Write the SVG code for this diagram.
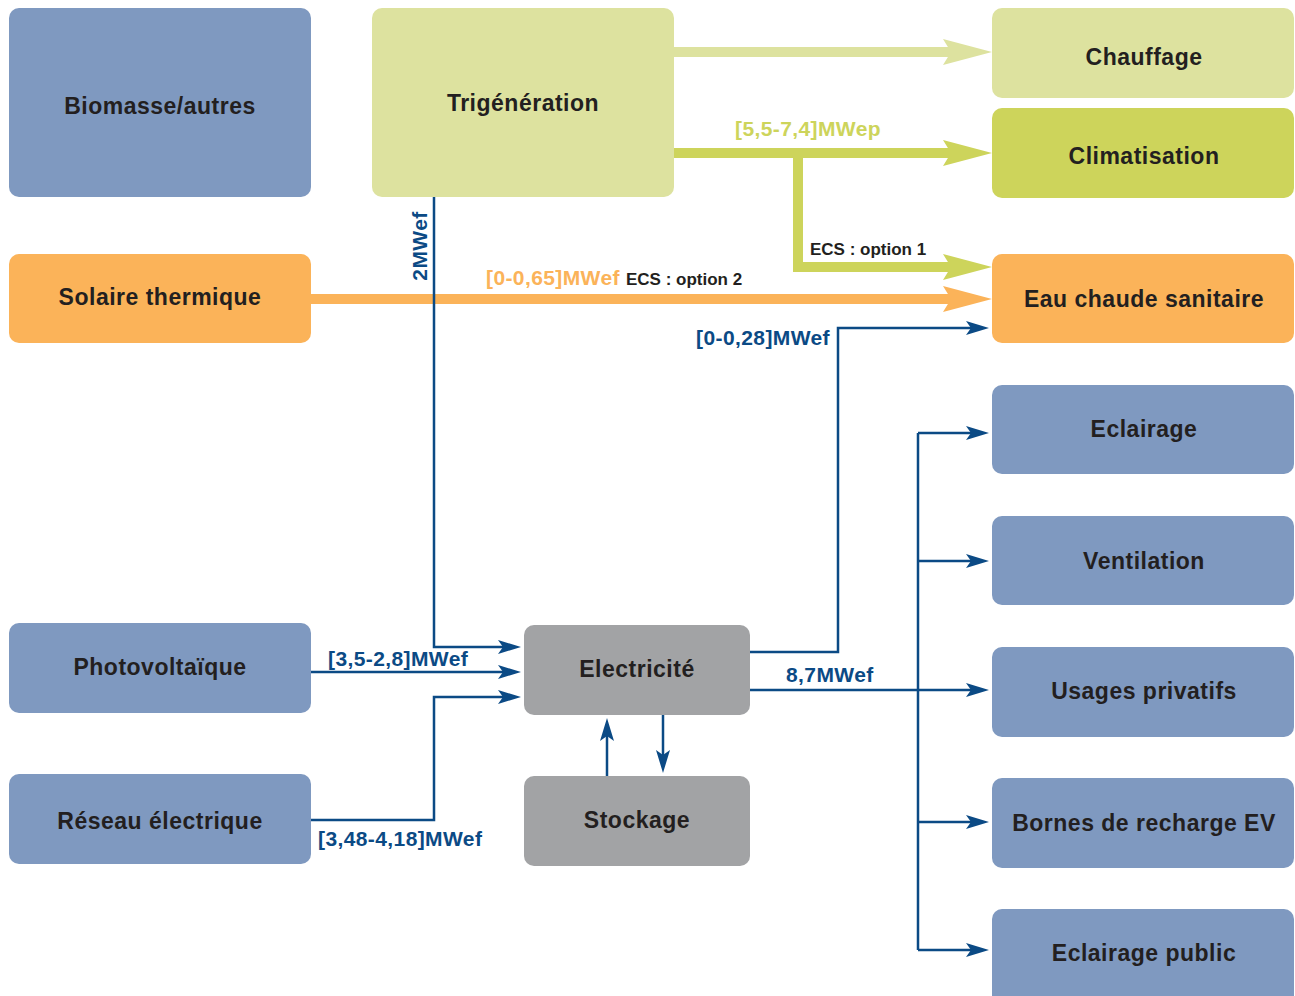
<svg xmlns="http://www.w3.org/2000/svg" width="1295" height="996" viewBox="0 0 1295 996">
<style>
.nb{fill:#7f99c0}
.nlg{fill:#dde29f}
.ncl{fill:#cdd45b}
.nor{fill:#fbb359}
.ngr{fill:#a2a3a5}
.lbl{font-family:"Liberation Sans",Arial,sans-serif;font-weight:bold;font-size:23px;letter-spacing:0.5px;fill:#231f20;text-anchor:middle}
.bl{font-family:"Liberation Sans",Arial,sans-serif;font-weight:bold;font-size:21px;letter-spacing:0.4px;fill:#0b4a85}
.blk{font-family:"Liberation Sans",Arial,sans-serif;font-weight:bold;font-size:17px;fill:#231f20}
.thin{fill:none;stroke:#0b4a85;stroke-width:2.5}
.thick{fill:none;stroke-width:10}
</style>
<defs>
<marker id="ab" markerUnits="userSpaceOnUse" markerWidth="24" markerHeight="16" refX="13" refY="7" orient="auto" overflow="visible">
<path d="M0,0 L23,7 L0,14 L5,7 z" fill="#0b4a85"/>
</marker>
<marker id="tlg" markerUnits="userSpaceOnUse" markerWidth="50" markerHeight="28" refX="19" refY="13" orient="auto" overflow="visible">
<path d="M0,0 L49,13 L0,26 L8,13 z" fill="#dde29f"/>
</marker>
<marker id="tcl" markerUnits="userSpaceOnUse" markerWidth="50" markerHeight="28" refX="19" refY="13" orient="auto" overflow="visible">
<path d="M0,0 L49,13 L0,26 L8,13 z" fill="#cdd45b"/>
</marker>
<marker id="tor" markerUnits="userSpaceOnUse" markerWidth="50" markerHeight="28" refX="19" refY="13" orient="auto" overflow="visible">
<path d="M0,0 L49,13 L0,26 L8,13 z" fill="#fbb359"/>
</marker>
</defs>
<rect width="1295" height="996" fill="#ffffff"/>

<g id="connectors">
<path class="thick" stroke="#dde29f" d="M674,52 H962" marker-end="url(#tlg)"/>
<path class="thick" stroke="#cdd45b" d="M674,153 H962" marker-end="url(#tcl)"/>
<path class="thick" stroke="#cdd45b" d="M798,153 V267 H962" marker-end="url(#tcl)"/>
<path class="thick" stroke="#fbb359" d="M311,299 H962" marker-end="url(#tor)"/>
<path class="thin" d="M434,197 V647 H511" marker-end="url(#ab)"/>
<path class="thin" d="M311,672 H511" marker-end="url(#ab)"/>
<path class="thin" d="M311,820 H434 V697 H511" marker-end="url(#ab)"/>
<path class="thin" d="M750,652 H838 V328 H979" marker-end="url(#ab)"/>
<path class="thin" d="M750,690 H979" marker-end="url(#ab)"/>
<path class="thin" d="M918,433 V950"/>
<path class="thin" d="M918,433 H979" marker-end="url(#ab)"/>
<path class="thin" d="M918,561 H979" marker-end="url(#ab)"/>
<path class="thin" d="M918,822 H979" marker-end="url(#ab)"/>
<path class="thin" d="M918,950 H979" marker-end="url(#ab)"/>
<path class="thin" d="M607,776 V728" marker-end="url(#ab)"/>
<path class="thin" d="M663,715 V763" marker-end="url(#ab)"/>
<text class="bl" transform="translate(427,246) rotate(-90)" text-anchor="middle">2MWef</text>
<text class="bl" x="486" y="285" style="fill:#fbb359">[0-0,65]MWef</text>
<text class="blk" x="626" y="285">ECS : option 2</text>
<text class="bl" x="735" y="136" style="fill:#cdd45b">[5,5-7,4]MWep</text>
<text class="blk" x="810" y="255">ECS : option 1</text>
<text class="bl" x="830" y="345" text-anchor="end">[0-0,28]MWef</text>
<text class="bl" x="328" y="666">[3,5-2,8]MWef</text>
<text class="bl" x="786" y="682">8,7MWef</text>
<text class="bl" x="318" y="846">[3,48-4,18]MWef</text>
</g>

<g id="biomasse"><rect class="nb" x="9" y="8" width="302" height="189" rx="10"/><text class="lbl" x="160" y="114">Biomasse/autres</text></g>
<g id="trigeneration"><rect class="nlg" x="372" y="8" width="302" height="189" rx="10"/><text class="lbl" x="523" y="111">Trigénération</text></g>
<g id="chauffage"><rect class="nlg" x="992" y="8" width="302" height="90" rx="10"/><text class="lbl" x="1144" y="65">Chauffage</text></g>
<g id="climatisation"><rect class="ncl" x="992" y="108" width="302" height="90" rx="10"/><text class="lbl" x="1144" y="164">Climatisation</text></g>
<g id="solaire"><rect class="nor" x="9" y="254" width="302" height="89" rx="10"/><text class="lbl" x="160" y="305">Solaire thermique</text></g>
<g id="eau-chaude"><rect class="nor" x="992" y="254" width="302" height="89" rx="10"/><text class="lbl" x="1144" y="307">Eau chaude sanitaire</text></g>
<g id="eclairage"><rect class="nb" x="992" y="385" width="302" height="89" rx="10"/><text class="lbl" x="1144" y="437">Eclairage</text></g>
<g id="ventilation"><rect class="nb" x="992" y="516" width="302" height="89" rx="10"/><text class="lbl" x="1144" y="569">Ventilation</text></g>
<g id="usages"><rect class="nb" x="992" y="647" width="302" height="90" rx="10"/><text class="lbl" x="1144" y="699">Usages privatifs</text></g>
<g id="bornes"><rect class="nb" x="992" y="778" width="302" height="90" rx="10"/><text class="lbl" x="1144" y="831">Bornes de recharge EV</text></g>
<g id="eclairage-public"><rect class="nb" x="992" y="909" width="302" height="97" rx="10"/><text class="lbl" x="1144" y="961">Eclairage public</text></g>
<g id="photovoltaique"><rect class="nb" x="9" y="623" width="302" height="90" rx="10"/><text class="lbl" x="160" y="675">Photovoltaïque</text></g>
<g id="reseau"><rect class="nb" x="9" y="774" width="302" height="90" rx="10"/><text class="lbl" x="160" y="829">Réseau électrique</text></g>
<g id="electricite"><rect class="ngr" x="524" y="625" width="226" height="90" rx="10"/><text class="lbl" x="637" y="677">Electricité</text></g>
<g id="stockage"><rect class="ngr" x="524" y="776" width="226" height="90" rx="10"/><text class="lbl" x="637" y="828">Stockage</text></g>
</svg>
